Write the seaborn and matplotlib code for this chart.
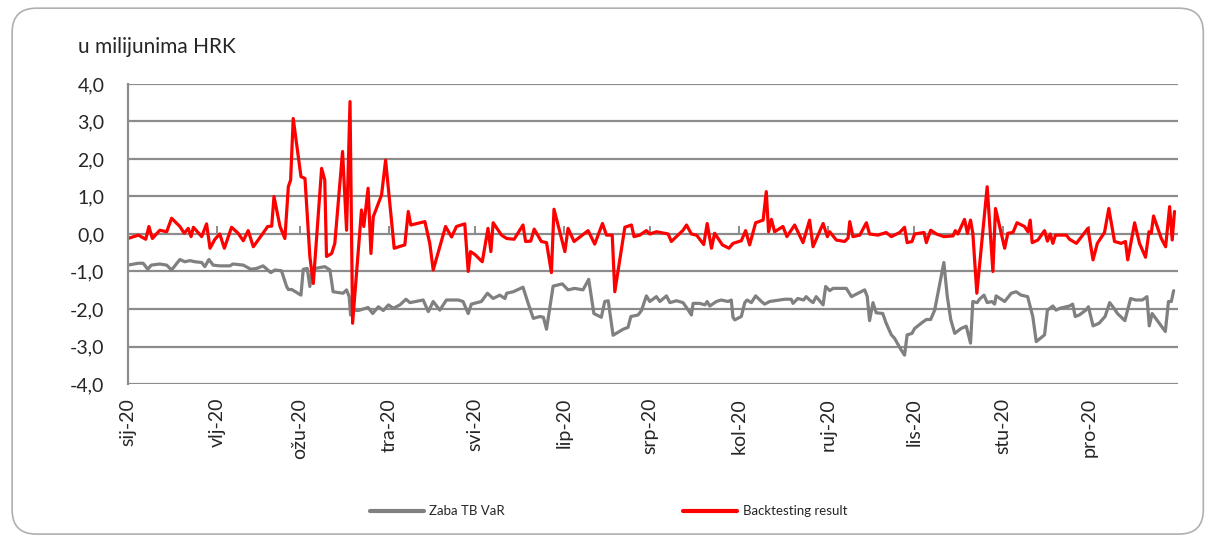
import pandas as pd
import matplotlib
matplotlib.use('Agg')
import matplotlib.pyplot as plt
from matplotlib.patches import FancyBboxPatch
import seaborn as sns

# day offsets from 1 Jan 2020 and values (millions HRK)
var_day = [0, 3.6, 5.3, 6.9, 8.1, 11.1, 13.5, 15.2, 18.1, 19.8, 21.6, 23.3, 25.7, 26.8, 28.2, 29.7,
           32, 35.5, 36.6, 40.2, 42.8, 44.8, 47.1, 49.8, 51.2, 53.5, 55.3, 55.9, 57.1, 60.3, 61.1,
           62.5, 63.4, 64, 65.2, 68.6, 70.4, 71.5, 75, 76.2, 77.1, 77.6, 78.3, 80.3, 82, 83.7, 85.3,
           87.3, 89, 90.8, 92.5, 94.8, 96.9, 98.3, 102.9, 104.7, 106.4, 108.7, 111, 115.1, 116.8,
           118.6, 119.7, 123.2, 125.3, 127.3, 129.6, 131.4, 132, 134.3, 137.7, 139.5, 141.3, 143.6,
           144.8, 145.9, 148.2, 151.4, 153.4, 155.7, 158.6, 160.6, 162.4, 165, 166.2, 167.4, 169.1,
           172.6, 174.3, 175.3, 177.8, 179, 180.7, 181.9, 184.2, 185.4, 187.7, 188.9, 191.2, 193.5,
           195.3, 196.4, 197, 199.3, 201.1, 201.9, 202.8, 205.1, 206.8, 209.2, 210.3, 210.9, 211.5,
           213.8, 215, 215.8, 217.3, 218.8, 220.8, 221.9, 223.7, 228.9, 231.2, 231.8, 233.5, 235.5,
           236.4, 237.6, 238.8, 239.9, 242.3, 243.2, 244.6, 245.8, 250.4, 252.2, 254.5, 256.8, 257.7,
           258.5, 259.7, 260.8, 263.1, 264.3, 266.1, 267.2, 269.5, 270.7, 271.6, 273.3, 274.2, 276.5,
           278.3, 279.8, 281.2, 284.4, 285.6, 286.8, 288.2, 290.4, 292.2, 293.7, 294.5, 296, 296.8,
           298.4, 299.5, 301.1, 302.1, 302.6, 305.6, 307.9, 309.6, 311.3, 313.6, 315.4, 316.6, 319.5,
           320.5, 322.4, 323.5, 324.9, 328.2, 329.3, 330.2, 331.6, 333.9, 334.8, 336.4, 338.5, 340.6,
           342.2, 343.7, 344.9, 347.5, 349.5, 351.3, 353.6, 355.2, 356, 357, 359, 361.6, 362.7,
           363.7, 364.5]
var_val = [-0.83, -0.78, -0.78, -0.94, -0.83, -0.8, -0.83, -0.96, -0.68, -0.74, -0.71, -0.74, -0.76,
           -0.87, -0.68, -0.83, -0.85, -0.85, -0.8, -0.83, -0.94, -0.92, -0.85, -1.03, -0.96, -0.98,
           -1.4, -1.48, -1.48, -1.63, -0.94, -0.92, -1.4, -1.05, -0.92, -0.87, -0.96, -1.54, -1.58,
           -1.49, -1.67, -2.16, -2.03, -2.04, -2.0, -1.96, -2.12, -1.94, -2.04, -1.89, -1.98, -1.89,
           -1.74, -1.83, -1.76, -2.07, -1.8, -2.03, -1.76, -1.76, -1.8, -2.12, -1.87, -1.8, -1.58,
           -1.72, -1.63, -1.72, -1.58, -1.54, -1.42, -1.85, -2.25, -2.2, -2.22, -2.54, -1.39, -1.33,
           -1.49, -1.45, -1.49, -1.21, -2.12, -2.22, -1.8, -1.78, -2.7, -2.54, -2.49, -2.2, -2.16,
           -2.04, -1.65, -1.8, -1.67, -1.8, -1.65, -1.83, -1.78, -1.83, -2.03, -2.16, -1.85, -1.85,
           -1.89, -1.8, -1.92, -1.8, -1.76, -1.8, -1.76, -2.22, -2.29, -2.2, -1.83, -1.76, -1.83,
           -1.65, -1.8, -1.87, -1.8, -1.74, -1.74, -1.85, -1.72, -1.76, -1.67, -1.76, -1.83, -1.67,
           -1.89, -1.4, -1.51, -1.45, -1.45, -1.67, -1.58, -1.49, -1.67, -2.31, -1.83, -2.1, -2.12,
           -2.38, -2.69, -2.78, -3.09, -3.23, -2.69, -2.65, -2.52, -2.38, -2.28, -2.28, -2.03, -0.76,
           -1.67, -2.28, -2.65, -2.52, -2.46, -2.91, -1.8, -1.83, -1.74, -1.63, -1.83, -1.8, -1.87,
           -1.65, -1.8, -1.58, -1.54, -1.63, -1.67, -2.2, -2.87, -2.69, -2.03, -1.92, -2.03, -1.98,
           -1.92, -1.87, -2.2, -2.16, -2.03, -1.94, -2.45, -2.38, -2.2, -1.83, -1.98, -2.12, -2.31,
           -1.72, -1.76, -1.76, -1.67, -2.45, -2.12, -2.33, -2.6, -1.8, -1.8, -1.51]

bt_day = [0, 3.6, 6.2, 7.3, 8.5, 11.1, 13.5, 15.2, 18.1, 19.6, 21, 22, 22.8, 25.7, 27.4, 28.6, 30.3,
          32, 33.6, 36.1, 38.4, 40.2, 41.9, 43.7, 46.6, 48.7, 50.1, 50.9, 53, 54.7, 55.9, 56.7, 57.6,
          60.3, 61.7, 63.4, 64.6, 67.5, 68.6, 69.2, 71, 72.1, 74.8, 76.2, 77.4, 78.3, 81.4, 82.2,
          83.7, 84.7, 85.5, 88.4, 89.8, 92.8, 96.5, 97.7, 98.6, 103.5, 105.2, 106.4, 110.7, 112.8,
          114.5, 117.4, 118.6, 119.4, 121, 123.5, 125.5, 126.5, 127.3, 130.2, 132, 134.6, 137.7,
          138.6, 140.4, 141.6, 144.1, 145.9, 147.6, 148.5, 152.3, 153.4, 155.5, 160.4, 162.7, 165.4,
          166.8, 168.8, 169.7, 173.2, 175.5, 176.4, 178.4, 180.7, 181.9, 184.2, 188.3, 189.4, 193.5,
          194.7, 196.4, 198.2, 200.7, 201.9, 203.4, 204.5, 207.2, 209.5, 210.9, 213.8, 215.3, 216.7,
          218.8, 221.4, 222.5, 223.3, 224.3, 225.4, 228.3, 229.7, 232.4, 235.3, 237.6, 238.8, 242.3,
          243.8, 244.6, 246.9, 249.8, 251, 251.6, 252.7, 255.1, 257.4, 258.5, 261.4, 264.3, 266.1,
          269, 270.7, 271.6, 273.3, 274.2, 277.5, 278.3, 279.8, 281.8, 284.4, 287.6, 288.4, 289.3,
          291.6, 292.6, 293.7, 294.5, 295.9, 299.5, 301.5, 302.4, 305.6, 306.7, 308.5, 309.9, 312.5,
          313.7, 314.5, 315.2, 317.2, 319.5, 320.5, 321.5, 322.4, 323.3, 327.1, 328.2, 330.6, 334.6,
          336.4, 337.9, 340.4, 341.9, 343.9, 346.2, 347.7, 348.5, 350.9, 352.6, 354.7, 355.9, 356.7,
          357.5, 360.2, 361.7, 363.1, 364, 364.8]
bt_val = [-0.12, -0.03, -0.14, 0.2, -0.12, 0.1, 0.06, 0.42, 0.2, 0.02, 0.15, -0.07, 0.18, -0.07,
          0.27, -0.38, -0.14, 0.0, -0.38, 0.18, 0.02, -0.18, 0.09, -0.34, -0.03, 0.2, 0.21, 1.0, 0.2,
          -0.12, 1.26, 1.44, 3.08, 1.53, 1.48, -0.6, -1.32, 1.75, 1.44, -0.6, -0.52, -0.25, 2.2, 0.1,
          3.53, -2.38, 0.64, 0.2, 1.22, -0.52, 0.46, 1.04, 1.97, -0.38, -0.29, 0.6, 0.24, 0.33, -0.25,
          -0.96, 0.2, -0.08, 0.2, 0.27, -1.0, -0.47, -0.55, -0.74, 0.15, -0.47, 0.3, -0.03, -0.12,
          -0.14, 0.24, -0.2, -0.19, 0.13, -0.2, -0.23, -1.03, 0.66, -0.47, 0.15, -0.2, 0.09, -0.27,
          0.28, -0.03, -0.03, -1.54, 0.18, 0.24, -0.07, -0.03, 0.09, 0.0, 0.06, 0.0, -0.2, 0.1, 0.24,
          0.0, -0.03, -0.28, 0.28, -0.38, 0.02, -0.29, -0.38, -0.25, -0.18, 0.09, -0.29, 0.3, 0.37,
          1.13, 0.06, 0.39, 0.06, 0.2, -0.07, 0.24, -0.23, 0.37, -0.34, 0.28, -0.07, 0.06, -0.16,
          -0.2, -0.11, 0.33, -0.07, -0.03, 0.3, 0.0, -0.03, 0.04, -0.07, 0.04, 0.18, -0.23, -0.2, 0.0,
          0.04, -0.23, 0.1, 0.0, -0.07, -0.05, 0.09, 0.0, 0.39, 0.02, 0.37, 0.02, -1.58, 1.26, -1.0,
          0.68, -0.38, 0.02, 0.04, 0.3, 0.2, 0.06, 0.37, -0.23, -0.16, 0.09, -0.19, 0.0, -0.25, -0.03,
          -0.03, -0.14, -0.25, 0.15, -0.69, -0.25, 0.04, 0.68, -0.2, -0.25, -0.2, -0.69, 0.3, -0.25,
          -0.62, 0.06, 0.02, 0.48, -0.12, -0.34, 0.73, -0.16, 0.6]

month_labels = ['sij-20', 'vlj-20', 'ožu-20', 'tra-20', 'svi-20', 'lip-20',
                'srp-20', 'kol-20', 'ruj-20', 'lis-20', 'stu-20', 'pro-20']
y_ticks = [-4, -3, -2, -1, 0, 1, 2, 3, 4]

start = pd.Timestamp('2020-01-01')
df_var = pd.DataFrame({'date': start + pd.to_timedelta(var_day, unit='D'), 'value': var_val,
                       'series': 'Zaba TB VaR'})
df_bt = pd.DataFrame({'date': start + pd.to_timedelta(bt_day, unit='D'), 'value': bt_val,
                      'series': 'Backtesting result'})
df = pd.concat([df_var, df_bt], ignore_index=True)

sns.set_style('white')
plt.rcParams['font.family'] = ['Lato', 'DejaVu Sans']

fig = plt.figure(figsize=(12.13, 5.45), dpi=100)
ax = fig.add_axes([0.1055, 0.2954, 0.8656, 0.5505])

grid_c = '#8c8c8c'
for y in y_ticks:
    ax.axhline(y, color=grid_c, lw=1.6, zorder=0)

sns.lineplot(data=df, x='date', y='value', hue='series',
             palette={'Zaba TB VaR': '#808080', 'Backtesting result': '#ff0000'},
             linewidth=2.3, ax=ax, legend=False, estimator=None, sort=False)

month_starts = pd.date_range('2020-01-01', periods=12, freq='MS')
ax.vlines(month_starts, 0, 0.2, color=grid_c, lw=1.4, zorder=1)

ax.set_xlim(start, pd.Timestamp('2021-01-01'))
ax.set_ylim(-4, 4)
ax.set_xticks(month_starts)
ax.set_xticklabels(month_labels, rotation=90, fontsize=14)
ax.set_yticks(y_ticks)
ax.set_yticklabels([f'{v:.1f}'.replace('.', ',') for v in y_ticks], fontsize=14)
ax.tick_params(axis='both', length=0)
ax.tick_params(axis='y', pad=17)
ax.tick_params(axis='x', pad=10)
ax.set_xlabel('')
ax.set_ylabel('')
for s in ['top', 'right', 'bottom']:
    ax.spines[s].set_visible(False)
ax.spines['left'].set_color(grid_c)
ax.spines['left'].set_linewidth(1.6)

fig.text(0.064, 0.914, 'u milijunima HRK', fontsize=15, va='center', ha='left')

handles = [plt.Line2D([], [], color='#808080', lw=3), plt.Line2D([], [], color='#ff0000', lw=3)]
fig.legend(handles, ['Zaba TB VaR', 'Backtesting result'], loc='center',
           bbox_to_anchor=(0.5017, 0.062), ncol=2, frameon=False, fontsize=9.5,
           handlelength=4.1, handletextpad=0.4, columnspacing=13.5)

border = FancyBboxPatch((0.01, 0.02), 0.982, 0.965, boxstyle='round,pad=0,rounding_size=0.02',
                        transform=fig.transFigure, fill=False, edgecolor='#b0b0b0', lw=1.2,
                        mutation_aspect=1213 / 545)
fig.patches.append(border)

fig.savefig('out.png', dpi=100)
